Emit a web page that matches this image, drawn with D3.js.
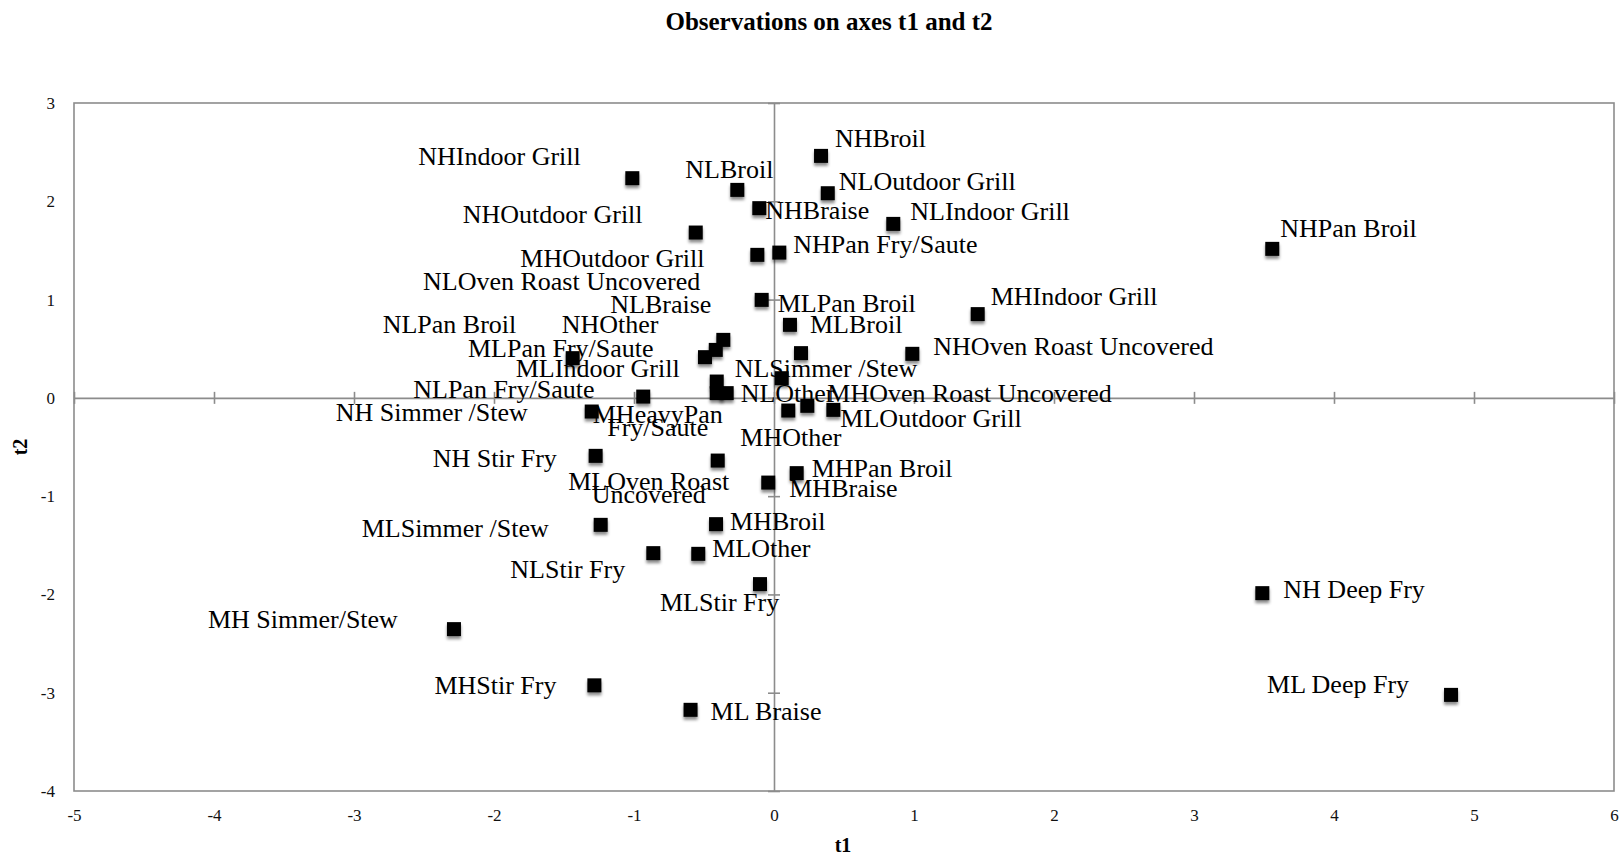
<!DOCTYPE html>
<meta charset="utf-8">
<style>
body{margin:0;background:#fff;}
svg text{font-family:'Liberation Serif','Times New Roman',serif;}
.lbl{font-size:26px;fill:#000;}
.tick text{font-size:17px;fill:#111;}
</style>
<svg id="chart" width="1621" height="857"></svg>
<script src="https://d3js.org/d3.v7.min.js"></script>
<script>
// observation names and their coordinates on t1 / t2
const names = ['NHBroil','NHIndoor Grill','NLBroil','NLOutdoor Grill','NHBraise','NLIndoor Grill',
  'NHOutdoor Grill','NHPan Broil','MHOutdoor Grill','NHPan Fry/Saute','MLPan Broil','MHIndoor Grill',
  'MLBroil','NHOven Roast Uncovered','NLSimmer /Stew','NLBraise','NHOther','MLPan Fry/Saute',
  'NLPan Broil','NLOven Roast Uncovered','MLIndoor Grill','MHeavyPan Fry/Saute','NLOther',
  'NLPan Fry/Saute','NH Simmer /Stew','MHOther','MHOven Roast Uncovered','MLOutdoor Grill',
  'MLOven Roast Uncovered','NH Stir Fry','MHPan Broil','MHBraise','MLSimmer /Stew','MHBroil',
  'NLStir Fry','MLOther','MLStir Fry','NH Deep Fry','MH Simmer/Stew','MHStir Fry','ML Braise','ML Deep Fry']
const t1 = [0.336,-1.012,-0.262,0.384,-0.105,0.852,
  -0.559,3.559,-0.119,0.038,-0.088,1.455,
  0.114,0.988,0.055,-0.362,-0.416,-0.493,
  -1.438,0.193,-0.409,-0.409,-0.338,
  -0.934,-1.302,0.102,0.238,0.424,
  -0.402,-1.274,0.162,-0.041,-1.238,-0.414,
  -0.862,-0.541,-0.100,3.488,-2.286,-1.283,-0.596,4.836]
const t2 = [2.462,2.235,2.116,2.082,1.930,1.770,
  1.682,1.516,1.455,1.478,0.997,0.852,
  0.743,0.448,0.200,0.590,0.488,0.414,
  0.404,0.455,0.166,0.048,0.048,
  0.013,-0.139,-0.129,-0.081,-0.122,
  -0.638,-0.590,-0.766,-0.862,-1.292,-1.285,
  -1.580,-1.587,-1.895,-1.987,-2.353,-2.925,-3.174,-3.022]
const xTicks = [-5,-4,-3,-2,-1,0,1,2,3,4,5,6]
const yTicks = [-4,-3,-2,-1,0,1,2,3]

// hand-placed data label offsets (start x, baseline y relative to marker), like the moved labels in the original
const labelPos = [[14,-9],[-214,-13],[-52,-12],[11,-3],[6,11],[17,-4],
  [-233,-10],[8,-12],[-237,12],[14,0],[16,12],[13,-9],
  [20,8],[21,1],[-47,-1],[-113,-27],[-154,-17],[-237,0],
  [-190,-25],[-378,-63],[-201,-5],[-59,30,'wrap'],[14,9],
  [-230,1],[-256,9],[-48,35],[20,-4],[7,17],
  [-69,29,'wrap'],[-163,11],[15,4],[21,14],[-239,12],[14,6],
  [-143,25],[14,3],[-100,27],[21,5],[-246,-1],[-160,9],[20,10],[-184,-2]]

const data = names.map((n,i) => ({name:n, t1:t1[i], t2:t2[i], pos:labelPos[i]}))

const svg = d3.select('#chart')
const pLeft = 74, pRight = 1614, pTop = 103, pBottom = 791
const x = d3.scaleLinear().domain([-5,6]).range([pLeft,pRight])
const y = d3.scaleLinear().domain([-4,3]).range([pBottom,pTop])
const grey = '#8c8c8c'
const plain = d => String(d)   // hyphen minus, no decimals, like the original

const defs = svg.append('defs')
const f = defs.append('filter').attr('id','shadow').attr('x','-50%').attr('y','-50%').attr('width','200%').attr('height','200%')
f.append('feDropShadow').attr('dx',0).attr('dy',3).attr('stdDeviation',1.8).attr('flood-color','#000').attr('flood-opacity',0.45)

// title
svg.append('text').attr('x',829).attr('y',30).attr('text-anchor','middle')
  .style('font-size','25px').style('font-weight','bold').text('Observations on axes t1 and t2')

// plot border
svg.append('rect').attr('x',pLeft).attr('y',pTop).attr('width',pRight-pLeft).attr('height',pBottom-pTop)
  .attr('fill','none').attr('stroke',grey).attr('stroke-width',1.6)

// axes through zero with crossing ticks
const hz = svg.append('g').attr('transform',`translate(0,${y(0)})`)
  .call(d3.axisBottom(x).tickValues(xTicks).tickSize(6).tickSizeOuter(0).tickFormat(''))
hz.selectAll('.tick line').attr('y1',-6)
const vz = svg.append('g').attr('transform',`translate(${x(0)},0)`)
  .call(d3.axisLeft(y).tickValues(yTicks).tickSize(6).tickSizeOuter(0).tickFormat(''))
vz.selectAll('.tick line').attr('x1',6)
svg.selectAll('.domain, .tick line').attr('stroke',grey).attr('stroke-width',1.6)

// tick labels at the edges of the plot
const xl = svg.append('g').attr('transform',`translate(0,${pBottom})`)
  .call(d3.axisBottom(x).tickValues(xTicks).tickFormat(plain).tickSize(0).tickPadding(18))
xl.select('.domain').remove()
const yl = svg.append('g').attr('transform',`translate(${pLeft},0)`)
  .call(d3.axisLeft(y).tickValues(yTicks).tickFormat(plain).tickSize(0).tickPadding(19))
yl.select('.domain').remove()
svg.selectAll('.tick text').style('font-family',"'Liberation Serif',serif")

// axis titles
svg.append('text').attr('x',843).attr('y',852).attr('text-anchor','middle')
  .style('font-size','20px').style('font-weight','bold').text('t1')
svg.append('text').attr('transform','translate(27,447) rotate(-90)').attr('text-anchor','middle')
  .style('font-size','20px').style('font-weight','bold').text('t2')

// markers
svg.append('g').selectAll('rect').data(data).join('rect')
  .attr('x',d => x(d.t1)-7).attr('y',d => y(d.t2)-7)
  .attr('width',14).attr('height',14).attr('fill','#000')
  .attr('filter','url(#shadow)')

// data labels
const lbl = svg.append('g').selectAll('text').data(data).join('text')
  .attr('class','lbl')
  .attr('x',d => x(d.t1)+d.pos[0]).attr('y',d => y(d.t2)+d.pos[1])
  .attr('text-anchor',d => d.pos[2] ? 'middle' : 'start')
lbl.filter(d => !d.pos[2]).text(d => d.name)
lbl.filter(d => d.pos[2]).each(function(d){
  const cut = d.name.lastIndexOf(' ')
  const t = d3.select(this)
  t.append('tspan').attr('x',x(d.t1)+d.pos[0]).text(d.name.slice(0,cut))
  t.append('tspan').attr('x',x(d.t1)+d.pos[0]).attr('dy',13).text(d.name.slice(cut+1))
})
</script>
